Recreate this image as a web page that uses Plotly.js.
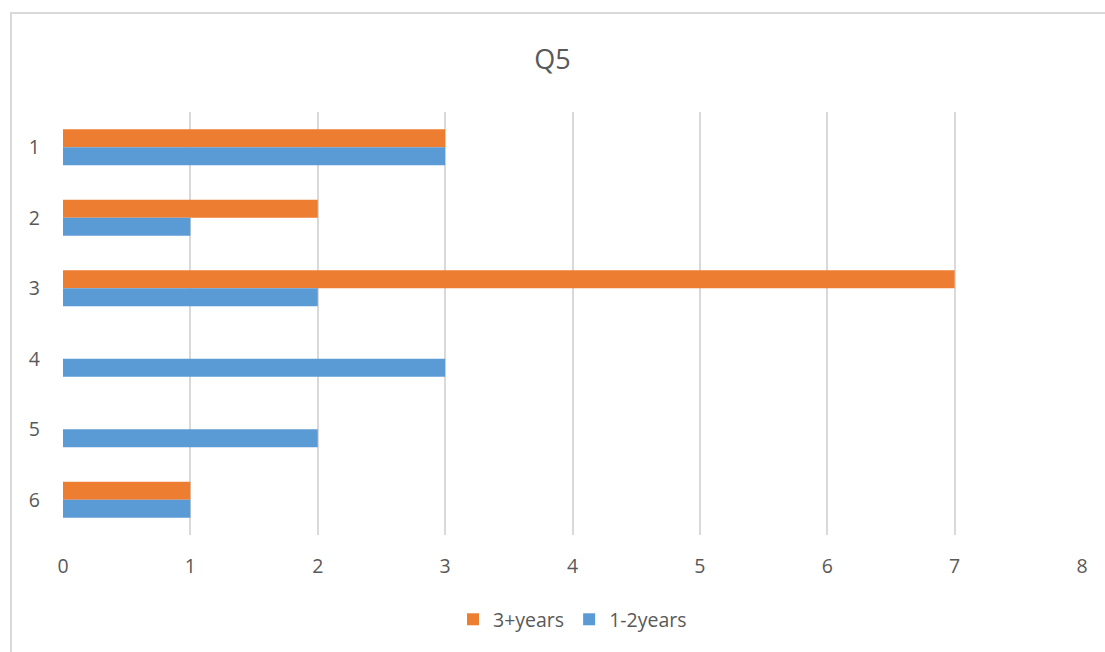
<!DOCTYPE html>
<html>
<head>
<meta charset="utf-8">
<script src="https://cdn.plot.ly/plotly-3.0.1.min.js"></script>
<style>html,body{margin:0;padding:0;background:#fff;}#chart{width:1105px;height:652px;}</style>
</head>
<body>
<div id="chart"></div>
<script>
const categories = ["1", "2", "3", "4", "5", "6"];
const years3plus = [3, 2, 7, 0, 0, 1];
const years1to2 = [3, 1, 2, 3, 2, 1];
const xTicks = [0, 1, 2, 3, 4, 5, 6, 7, 8];

const font = "Open Sans, Liberation Sans, sans-serif";
const textColor = "#595959";

const traces = [
  {type: "bar", orientation: "h", name: "3+years", y: categories, x: years3plus,
   marker: {color: "#ED7D31"}, hoverinfo: "x+name"},
  {type: "bar", orientation: "h", name: "1-2years", y: categories, x: years1to2,
   marker: {color: "#5B9BD5"}, hoverinfo: "x+name"}
];

const layout = {
  width: 1105, height: 652,
  margin: {l: 63, r: 23, t: 112, b: 117},
  paper_bgcolor: "#fff", plot_bgcolor: "#fff",
  title: {text: "Q5", font: {family: font, size: 27, color: textColor}, x: 0.5, xanchor: "center", y: 0.908, yanchor: "middle"},
  barmode: "group", bargap: 0.49, bargroupgap: 0,
  xaxis: {range: [0, 8], tickvals: xTicks, ticktext: xTicks.map(String),
    showgrid: true, gridcolor: "#D9D9D9", gridwidth: 2, zeroline: false, showline: false,
    tickfont: {family: font, size: 19.5, color: textColor}, ticks: "", ticklabelstandoff: 17, fixedrange: true},
  yaxis: {autorange: "reversed", type: "category", showgrid: false, zeroline: false, showline: false,
    tickfont: {family: font, size: 19.5, color: textColor}, ticks: "", ticklabelstandoff: 22, fixedrange: true},
  showlegend: true,
  legend: {orientation: "h", x: 0.5, xanchor: "center", y: -0.2, yanchor: "middle",
    traceorder: "normal", font: {family: font, size: 19.5, color: textColor}, itemwidth: 30},
  shapes: [
    {type: "rect", xref: "paper", yref: "paper", x0: -0.051, x1: 1.03, y0: -0.3, y1: 1.234,
     line: {color: "#D9D9D9", width: 2}, fillcolor: "rgba(0,0,0,0)", layer: "below"}
  ]
};

Plotly.newPlot("chart", traces, layout, {displayModeBar: false, staticPlot: true});
</script>
</body>
</html>
